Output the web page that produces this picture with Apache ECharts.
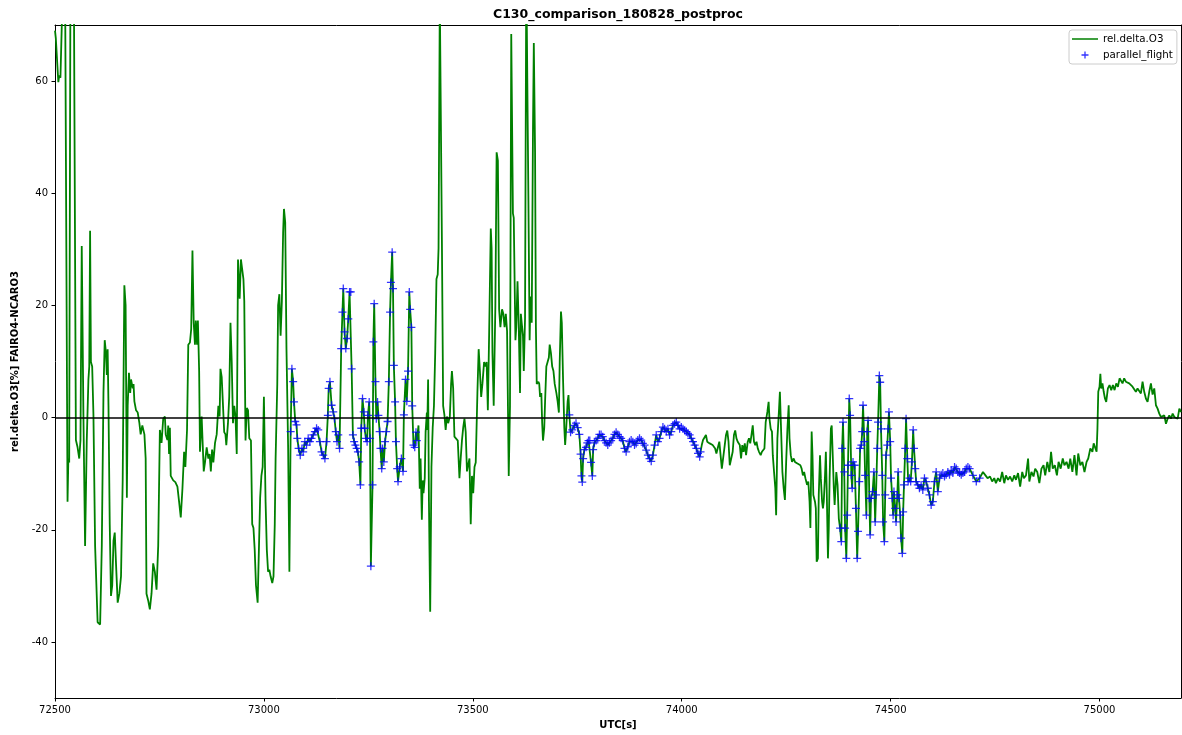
<!DOCTYPE html>
<html><head><meta charset="utf-8">
<script src="https://cdn.jsdelivr.net/npm/echarts@6/dist/echarts.min.js"></script>
<style>html,body{margin:0;padding:0;background:#fff}#c{width:1182px;height:735px}</style>
</head><body><div id="c"></div>
<script>
const chartTitle = 'C130_comparison_180828_postproc';
const xName = 'UTC[s]';
const yName = 'rel.delta.O3[%] FAIRO4-NCARO3';
const xTicks = [72500, 73000, 73500, 74000, 74500, 75000];
const yTicks = [-40, -20, 0, 20, 40, 60];
const lineName = 'rel.delta.O3';
const flightName = 'parallel_flight';

// [UTC s, rel.delta.O3 %]
const o3Points = [
[72500,69],[72502,67.6],[72508,59.8],[72510,61],[72513,60.6],[72518,75],[72521,75],[72524,80],[72530,-15],[72532,-7.3],[72534,-8],[72537,80],[72541,85],[72545,80],[72550,-4],[72554,-5.3],[72558,-7.3],[72561,-4],[72564,30.6],[72568,0.5],[72572,-22.9],[72576,-4.1],[72580,6.8],[72582,9.1],[72584,33.3],[72586,9.9],[72589,9.1],[72592,0.5],[72596,-22.9],[72602,-36.5],[72608,-36.9],[72612,-22.9],[72616,4.4],[72619,13.8],[72622,11.5],[72624,7.6],[72626,12.2],[72628,2.1],[72631,-19],[72634,-31.8],[72637,-29.9],[72640,-22],[72643,-20.5],[72646,-26],[72650,-33],[72654,-31.4],[72658,-28.3],[72662,-11.2],[72666,23.6],[72669,20],[72672,-14.3],[72674,2.1],[72677,8],[72680,4.4],[72682,6.8],[72686,5.2],[72688,6],[72690,2.9],[72694,1.3],[72698,0.9],[72702,-1],[72705,-3],[72709,-1.4],[72714,-3],[72717,-7.3],[72719,-31.4],[72723,-32.6],[72727,-34.2],[72731,-31.4],[72735,-26],[72739,-27.5],[72743,-30.7],[72747,-22.9],[72751,-2.2],[72755,-4.5],[72759,-0.2],
[72763,0.2],[72765,-3],[72769,-4],[72771,-1.4],[72773,-6.5],[72775,-1.8],[72777,-10.4],[72783,-11.2],[72788,-11.5],[72793,-12.3],[72797,-15],[72801,-17.8],[72805,-12.7],[72809,-6.1],[72812,-8.8],[72816,-2.2],[72819,13],[72823,13.4],[72826,15.8],[72829,29.8],[72832,16.9],[72835,13],[72837,17.3],[72840,13],[72842,17.3],[72845,8.3],[72847,-6.1],[72851,0.2],[72854,-5.7],[72856,-9.6],[72859,-8],[72863,-5.3],[72867,-7.3],[72870,-6.5],[72873,-9.6],[72876,-5.7],[72879,-8],[72883,-4.5],[72887,-3],[72891,2.1],[72894,0.2],[72896,8.7],[72899,7.2],[72902,7.2],[72905,-2.6],[72908,-3],[72910,-4.9],[72914,-1],[72917,3.7],[72920,16.9],[72923,9.9],[72926,-1],[72929,2.1],[72932,0.2],[72935,-6.5],[72938,28.2],[72942,21.2],[72945,28.2],[72948,28.2],[72951,24.7],[72953,20.8],[72956,-4.1],[72959,1.7],[72962,1.3],[72965,-3.7],[72969,-4.1],[72972,-19],[72975,-19.7],[72978,-23.6],[72981,-29.9],[72985,-33],[72988,-33],[72991,-14.3],[72994,-10.4],[72997,-8.8],[73000,3.7],[73004,-15],[73007,-23.6],[73010,-27.5],[73013,-27.1],[73016,-28.3],[73020,-29.5],[73023,-28.3],[73026,-19],[73028,-7.3],[73032,6],[73034,20],[73037,22],[73040,14.6],[73043,20.8],[73046,33],[73048,37.2],[73051,34.8],[73054,12.3],[73058,-5.5],[73061,-27.5],
[73064,-2.5],[73067,8.7],[73070,6.4],[73072,2.8],[73075,-0.7],[73078,-1.3],[73080,-3.7],[73083,-5.5],[73087,-6.7],[73091,-5.5],[73094,-6.1],[73098,-4.3],[73102,-4.9],[73106,-3.7],[73110,-4.3],[73114,-3.7],[73118,-3.1],[73122,-2.5],[73126,-1.9],[73130,-2.2],[73134,-4.3],[73138,-6.1],[73142,-6.7],[73146,-7.3],[73150,-4.3],[73153,0.4],[73155,5.2],[73158,6.4],[73162,2.2],[73166,1],[73169,-0.2],[73172,-2.5],[73175,-4.3],[73178,-3.1],[73181,-5.5],[73185,12.3],[73188,18.8],[73190,23],[73193,15.3],[73196,12.3],[73199,14.1],[73202,17.6],[73205,22.4],[73208,22.4],[73210,8.7],[73213,-3.1],[73216,-4.3],[73219,-4.9],[73222,-5.5],[73225,-6.1],[73228,-7.9],[73231,-12],[73233,-1.9],[73236,3.4],[73239,1],[73241,-1.9],[73244,-3.7],[73247,-4.3],[73249,0.4],[73252,2.8],[73254,-3.7],[73256,-26.5],[73260,-12],[73262,13.5],[73264,20.3],[73267,6.4],[73269,-0.2],[73272,2.8],[73274,0.4],[73277,-2.5],[73279,-5.5],[73282,-9.1],[73284,-5.5],[73287,-7.9],[73290,-4.3],[73293,-2.5],[73296,-0.7],[73299,6.4],[73302,18.8],[73304,24.1],[73307,29.5],[73309,23],[73311,9.3],[73314,2.8],[73316,-4.3],[73319,-9.1],[73321,-11.4],
[73325,-8.8],[73329,-7.3],[73333,-9.6],[73335,0.5],[73339,6.8],[73342,2.9],[73345,8.3],[73348,22.4],[73350,19.3],[73353,16.1],[73355,2.1],[73358,-4.9],[73361,-5.3],[73364,-2.6],[73366,-4.1],[73370,-1.4],[73373,-12.7],[73375,-7.3],[73378,-18.2],[73380,-11.2],[73382,-13.5],[73385,-10.8],[73387,-2.6],[73390,0.9],[73391,-2.2],[73393,6.8],[73395,-15],[73398,-34.6],[73401,-8.8],[73404,-1.8],[73407,2.1],[73410,11.5],[73413,24.7],[73416,25.5],[73418,30.2],[73421,75],[73424,75],[73426,31.7],[73429,2.1],[73432,0.5],[73435,-2.2],[73438,0.2],[73441,-1],[73445,0.2],[73448,6],[73450,8.3],[73453,5.2],[73456,-3.4],[73460,-3.7],[73464,-4.1],[73468,-10.8],[73471,-7.3],[73474,-4.1],[73477,-1.8],[73480,-0.2],[73483,-2.6],[73486,-9.6],[73488,-8.8],[73492,-7.3],[73495,-19],[73498,-10.4],[73501,-13.5],[73504,-8.8],[73507,-8],[73511,4.4],[73514,12.2],[73517,8.3],[73520,3.7],[73523,6],[73527,9.9],[73530,9.1],[73533,9.9],[73536,1.3],[73539,14.6],[73543,33.7],[73545,30.2],[73547,11.5],[73550,2.1],[73554,20],[73557,47.3],[73560,45.8],[73563,19.3],[73566,16.1],[73570,19.3],[73573,18.5],[73576,16.1],[73579,18.5],[73582,15.4],[73586,-10.4],[73589,2.1],[73592,68.4],[73596,36.4],[73598,35.6],
[73602,13.8],[73604,16.1],[73607,24.3],[73610,16.1],[73613,4.4],[73615,18.5],[73617,16.9],[73620,14.6],[73622,8.3],[73625,17.7],[73628,80],[73631,80],[73633,39.5],[73636,13.8],[73638,21.6],[73641,16.9],[73644,51.2],[73646,66.8],[73649,47.3],[73651,16.1],[73653,6],[73657,6.4],[73659,6],[73661,3.7],[73664,4.4],[73666,-1],[73668,-4.1],[73671,-1.8],[73673,2.9],[73676,9.1],[73679,9.9],[73682,10.7],[73684,13],[73687,11.5],[73690,9.1],[73693,8.3],[73696,6],[73700,4.4],[73703,2.9],[73706,0.9],[73708,9.9],[73711,18.9],[73713,16.9],[73716,6.8],[73719,-1.8],[73721,-4.9],[73723,-2.6],[73727,2.9],[73729,4],[73731,0.5],[73734,-2.6],[73738,-2.2],[73743,-1.4],[73747,-1],[73751,-1.8],[73755,-3],[73758,-6.5],[73760,-10.4],[73762,-11.5],[73764,-7.3],[73767,-5.7],[73771,-5.3],[73774,-4.5],[73777,-4.1],[73780,-4.1],[73783,-8],[73786,-10.4],[73788,-5.7],[73791,-4.5],[73795,-4.1],[73799,-3.7],[73803,-3],[73807,-3],[73811,-3.4],[73815,-4.1],[73819,-4.5],[73823,-4.9],[73827,-4.5],[73831,-4.1],[73835,-3.7],[73839,-3],[73843,-2.6],[73847,-3],[73851,-3.4],[73855,-3.7],[73859,-4.1],
[73863,-5.5],[73867,-6.1],[73871,-5.2],[73875,-4.3],[73879,-4],[73883,-4.3],[73887,-4.9],[73891,-4.6],[73895,-4],[73899,-3.7],[73903,-4],[73907,-4.6],[73911,-4.9],[73915,-5.8],[73919,-6.7],[73923,-7.3],[73927,-7.8],[73931,-6.7],[73935,-4.9],[73939,-3.1],[73943,-4.3],[73947,-3.7],[73951,-2.5],[73955,-1.7],[73959,-2],[73963,-2.5],[73967,-2],[73971,-3.1],[73975,-2.5],[73979,-1.4],[73983,-1.1],[73987,-0.8],[73991,-1.4],[73995,-2],[73999,-1.7],[74003,-2],[74007,-2.3],[74011,-2.5],[74015,-2.8],[74019,-3.1],[74023,-3.7],[74027,-4.3],[74031,-4.9],[74035,-5.5],[74039,-6.4],[74043,-7],[74045,-6.1],[74048,-4.9],[74051,-4],[74055,-4.3],[74058,-3.1],[74061,-4.3],[74064,-4],[74067,-4.6],[74071,-4.3],[74074,-4.9],[74077,-4.6],[74080,-5.5],[74083,-6.4],[74087,-5.2],[74090,-4.3],[74093,-6.7],[74096,-9.1],[74099,-7.3],[74103,-4.9],[74106,-3.1],[74109,-2.3],[74112,-4.3],[74115,-8.5],[74118,-8.8],[74122,-6.1],[74125,-3.1],[74128,-2.3],[74131,-3.7],[74134,-4.3],
[74139,-4.9],[74142,-7.3],[74145,-4.9],[74148,-6.1],[74151,-4.6],[74154,-6.7],[74158,-4.3],[74161,-3.7],[74164,-4.6],[74167,-3.1],[74170,-1.4],[74173,-4.3],[74176,-4.9],[74179,-4.3],[74182,-5.5],[74185,-6.1],[74189,-6.7],[74192,-6.1],[74195,-6.4],[74198,-5.5],[74201,-0.8],[74205,1],[74208,2.8],[74210,-0.2],[74213,-2],[74216,-2.5],[74218,-6.7],[74221,-9.7],[74224,-12.6],[74226,-17.4],[74229,-3.7],[74233,1.6],[74235,4.6],[74237,-0.2],[74241,-9.7],[74244,-12.6],[74247,-14.7],[74250,-7.9],[74253,-2],[74256,2.2],[74258,-3.7],[74261,-6.7],[74264,-7.9],[74268,-7.3],[74271,-7.9],[74274,-7.6],[74277,-8.2],[74280,-7.9],[74284,-8.5],[74287,-9.1],[74290,-10.3],[74293,-9.7],[74296,-10.8],[74300,-12],[74303,-11.4],[74306,-15],[74308,-19.7],[74311,-2.5],[74313,-6.7],[74315,-13.8],[74319,-15],[74321,-16.2],[74323,-25.7],[74326,-25.1],[74328,-13.8],[74331,-6.7],[74333,-10.8],[74336,-15],[74338,-16.2],[74340,-15],[74343,-10.3],[74345,-6.1],[74347,-12.6],[74350,-25.1],[74352,-19.7],[74354,-10.8],[74357,-2],[74359,-1.4],[74362,-7.9],[74364,-12.6],[74366,-15.6],[74370,-9.7],[74373,-12],[74376,-18],[74379,-19.7],[74382,-22.1],[74384,-5.5],[74386,-0.8],[74389,-9.7],[74391,-19.7],[74394,-25.1],[74396,-17.4],[74398,-8.5],[74401,3.4],[74403,0.4],[74406,-10.3],[74408,-12.6],[74410,-7.9],
[74414,-8.5],[74417,-16.2],[74420,-25.1],[74422,-20.3],[74425,-11.4],[74427,-5.5],[74430,-4.9],[74432,-2.5],[74434,2.2],[74437,-4.3],[74439,-10.3],[74442,-17.4],[74444,-2.5],[74446,-0.5],[74449,-14.4],[74451,-20.9],[74453,-14.4],[74457,-13.2],[74460,-9.7],[74463,-18.6],[74465,-13.8],[74468,-5.5],[74470,-0.8],[74473,7.5],[74475,6.3],[74477,-2],[74480,-10.3],[74482,-18.6],[74485,-22.1],[74487,-13.8],[74489,-6.7],[74492,-4.9],[74494,-2],[74496,1],[74499,-4.3],[74501,-10.8],[74504,-14.4],[74506,-17.4],[74508,-13.2],[74511,-16.2],[74513,-18.6],[74516,-13.8],[74518,-9.7],[74520,-14.4],[74523,-17.4],[74525,-21.5],[74528,-24.2],[74530,-16.8],[74532,-12],[74535,-5.5],[74537,-0.2],[74540,-7.3],[74542,-11.4],[74545,-10.8],[74548,-11.4],[74551,-7.9],[74554,-2.2],[74556,-5.5],[74559,-9.1],[74561,-11.4],[74565,-12],[74569,-12.6],[74573,-12],[74577,-12.9],[74581,-10.8],[74585,-11.4],[74589,-12.6],[74593,-13.8],[74597,-15.6],[74601,-15],[74605,-11.4],[74609,-9.7],[74613,-13.2],[74617,-10.8],[74621,-10.2],[74625,-9.9],[74629,-10.5],[74633,-10.2],[74637,-9.7],[74641,-10.2],[74645,-9.4],[74649,-9.9],[74653,-8.8],[74657,-9.1],[74661,-9.7],[74665,-9.9],[74669,-10.2],[74673,-9.9],[74677,-9.7],[74681,-9.1],[74685,-8.8],
[74689,-9.1],[74697,-10.3],[74705,-11.4],[74713,-10.8],[74721,-9.7],[74727,-10.3],[74732,-10.8],[74738,-10.5],[74743,-11.4],[74748,-10.8],[74752,-11.7],[74757,-10.8],[74762,-11.4],[74767,-9.7],[74772,-11.7],[74776,-10.3],[74781,-11.1],[74786,-10.5],[74791,-11.4],[74796,-10.3],[74800,-11.1],[74805,-9.9],[74810,-12.3],[74815,-9.7],[74819,-10.8],[74824,-10.3],[74829,-7.3],[74832,-11.4],[74837,-9.7],[74842,-10.5],[74846,-9.1],[74851,-9.7],[74856,-11.7],[74861,-9.1],[74866,-8.5],[74870,-10.3],[74875,-7.9],[74880,-9.7],[74884,-6.1],[74888,-9.1],[74893,-8.5],[74898,-10.3],[74902,-7.9],[74907,-9.1],[74912,-7.3],
[74916,-8.5],[74921,-7.9],[74926,-9.1],[74930,-7.3],[74935,-9.7],[74940,-6.7],[74945,-10.3],[74949,-6.4],[74954,-8.5],[74959,-7.9],[74964,-9.7],[74969,-7.9],[74973,-7.3],[74978,-5.5],[74983,-6.1],[74986,-4.6],[74989,-4.9],[74993,-6.1],[74995,-2],[74997,4.6],[75000,5.5],[75002,7.8],[75004,5.2],[75007,6.1],[75010,4.6],[75013,3.4],[75016,2.8],[75020,5.2],[75024,5.8],[75028,4.9],[75032,5.8],[75036,4.9],[75040,6.1],[75044,5.5],[75048,7],[75052,7.2],[75055,6.1],[75059,7],[75063,6.4],[75067,6.7],[75071,6.1],[75075,6.4],[75079,5.5],[75083,5.8],[75087,4.6],[75091,5.2],[75095,5.5],[75099,4.3],[75103,6.4],[75107,4.6],[75111,3.4],[75115,2.8],[75119,4.6],[75123,6.1],[75127,4.1],[75131,5.2],[75135,2.2],[75139,1.6],[75143,0.7],[75147,0.1],[75151,-0.2],[75155,0.4],[75159,-1.1],[75163,-0.2],[75167,0.4],[75171,-0.2],[75175,0.7],[75179,0.1],[75183,0.4],[75187,-0.2],[75191,1.6],[75195,1.0]
];

// UTC windows of the parallel flight legs
const flightRanges = [[73062, 73366], [73731, 74046], [74377, 74713]];
const flightPoints = o3Points.filter(p => flightRanges.some(r => p[0] >= r[0] && p[0] <= r[1]));

const xMin = 72500, xMax = 75195, yMin = -50, yMax = 70;

const plusSym = 'path://M4.2,0H5.8V4.2H10V5.8H5.8V10H4.2V5.8H0V4.2H4.2Z';
const lineIcon = 'path://M0,0L0.01,0L0,0.01Z M26,7L25.99,7L26,6.99Z M0,2.7H26V4.3H0Z';
const plusIcon = 'path://M0,0L0.01,0L0,0.01Z M26,7L25.99,7L26,6.99Z M12.35,0H13.65V2.85H16.5V4.15H13.65V7H12.35V4.15H9.5V2.85H12.35Z';

const FONT = 'DejaVu Sans';
const chart = echarts.init(document.getElementById('c'), null, {renderer: 'canvas'});
const axisLineStyle = {color: '#000', width: 1};
const plainNum = v => String(v);

chart.setOption({
  animation: false,
  backgroundColor: '#fff',
  textStyle: {fontFamily: FONT},
  graphic: [{
    type: 'text', x: 618, y: 15, z: 10,
    style: {text: chartTitle, textAlign: 'center', textVerticalAlign: 'middle',
            font: 'bold 12.5px "DejaVu Sans"', fill: '#000'}
  }],
  legend: {
    orient: 'vertical', left: 1069, top: 30,
    padding: [4, 4, 4, 3], itemGap: 6,
    itemWidth: 26, itemHeight: 7,
    backgroundColor: 'rgba(255,255,255,0.85)', borderColor: '#cccccc', borderWidth: 1, borderRadius: 3,
    selectedMode: false,
    textStyle: {fontSize: 10.3, fontFamily: FONT, color: '#000'},
    itemStyle: {borderWidth: 0},
    data: [{name: lineName, icon: lineIcon}, {name: flightName, icon: plusIcon}]
  },
  grid: {left: 55, right: 1, top: 25, bottom: 35, containLabel: false},
  xAxis: [{
    type: 'value', min: xMin, max: xMax,
    name: xName, nameLocation: 'middle', nameGap: 22,
    nameTextStyle: {fontWeight: 'bold', fontSize: 10, fontFamily: FONT, color: '#000'},
    axisLine: {show: true, onZero: false, lineStyle: axisLineStyle},
    axisTick: {show: true, length: 3.5, lineStyle: axisLineStyle, customValues: xTicks},
    axisLabel: {color: '#000', fontSize: 10, fontFamily: FONT, margin: 7, customValues: xTicks, formatter: plainNum},
    splitLine: {show: false}
  }, {
    type: 'value', min: xMin, max: xMax, position: 'top',
    axisLine: {show: true, onZero: false, lineStyle: axisLineStyle},
    axisTick: {show: false}, axisLabel: {show: false}, splitLine: {show: false}
  }],
  yAxis: [{
    type: 'value', min: yMin, max: yMax,
    name: yName, nameLocation: 'middle', nameGap: 31, nameRotate: 90,
    nameTextStyle: {fontWeight: 'bold', fontSize: 10, fontFamily: FONT, color: '#000'},
    axisLine: {show: true, onZero: false, lineStyle: axisLineStyle},
    axisTick: {show: true, length: 3.5, lineStyle: axisLineStyle, customValues: yTicks},
    axisLabel: {color: '#000', fontSize: 10, fontFamily: FONT, margin: 7, customValues: yTicks, formatter: plainNum},
    splitLine: {show: false}
  }, {
    type: 'value', min: yMin, max: yMax, position: 'right',
    axisLine: {show: true, onZero: false, lineStyle: axisLineStyle},
    axisTick: {show: false}, axisLabel: {show: false}, splitLine: {show: false}
  }],
  series: [{
    name: lineName, type: 'line', data: o3Points,
    xAxisIndex: 0, yAxisIndex: 0,
    symbol: 'none', showSymbol: false, clip: true, z: 2,
    lineStyle: {color: '#008000', width: 1.8},
    itemStyle: {color: '#008000'},
    markLine: {
      silent: true, symbol: 'none', animation: false,
      label: {show: false},
      lineStyle: {color: '#000', width: 1.5, type: 'solid'},
      data: [{yAxis: 0}]
    }
  }, {
    name: flightName, type: 'scatter', data: flightPoints,
    xAxisIndex: 0, yAxisIndex: 0,
    symbol: plusSym, symbolSize: 8, z: 3,
    itemStyle: {color: '#0000ff'}
  }]
});
</script>
</body></html>
